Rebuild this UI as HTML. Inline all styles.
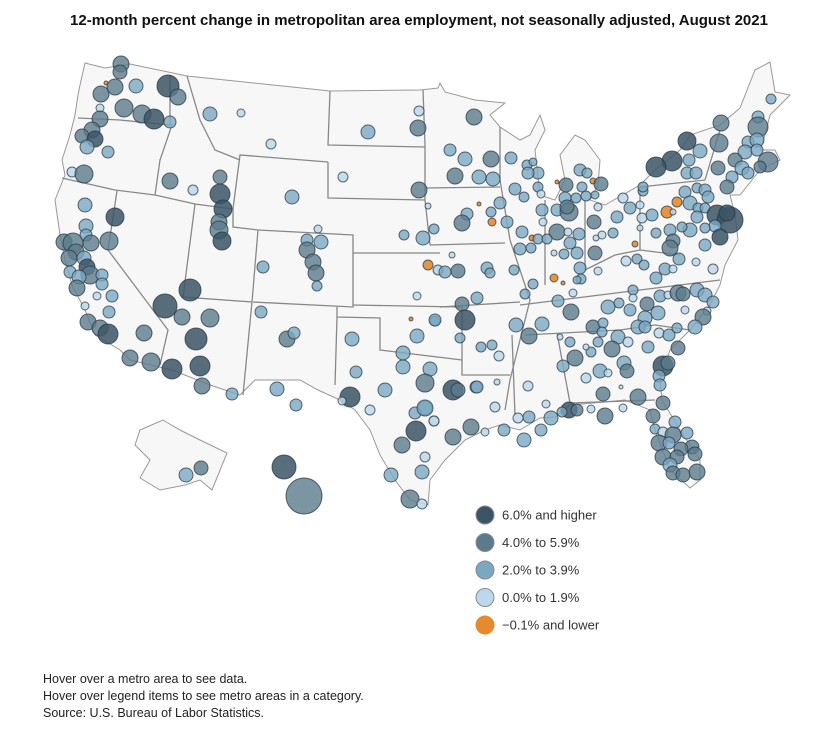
<!DOCTYPE html>
<html><head><meta charset="utf-8"><style>
body{margin:0;background:#fff;width:838px;height:740px;overflow:hidden;font-family:"Liberation Sans",sans-serif;}
.t{position:absolute;left:0;width:838px;top:12px;text-align:center;font-weight:bold;font-size:15px;color:#111;}
.f{position:absolute;left:43px;top:671px;font-size:12.5px;line-height:17px;color:#222;}
svg{position:absolute;left:0;top:0}
</style></head><body>
<div class="t">12-month percent change in metropolitan area employment, not seasonally adjusted, August 2021</div>
<svg width="838" height="740" id="m">
<polygon fill="#f7f7f7" stroke="#999" stroke-width="1" points="80,85 85,63 105,68 130,64 187,76 330,91 420,90 438,88 440,83 445,92 475,100 505,103 490,115 500,127 520,140 530,135 540,115 545,130 535,150 540,195 555,200 565,180 560,155 575,135 585,140 600,160 598,185 590,200 605,205 640,185 655,170 680,150 690,135 720,125 740,108 755,70 770,62 775,92 790,95 770,115 765,135 760,150 775,150 780,160 760,170 740,195 730,195 735,215 738,240 725,265 720,285 710,305 690,330 670,350 660,380 662,400 680,430 700,460 700,480 690,488 670,470 655,430 650,410 625,400 605,402 570,405 555,417 540,418 520,430 500,425 485,430 465,440 445,460 430,480 428,505 410,500 395,480 380,455 370,430 355,410 340,400 318,390 300,380 275,380 255,380 240,395 210,385 172,370 130,360 120,350 95,335 85,310 72,285 65,260 60,235 55,200 65,175 62,160 70,135 75,115 78,95"/>
<polygon fill="#f7f7f7" stroke="#999" points="140,430 163,420 180,430 200,440 227,453 212,490 200,480 185,485 160,490 140,478 150,460 135,445"/>
<g fill="none" stroke="#888" stroke-width="1.3">
<polyline points="78,118 120,120 170,125"/><polyline points="170,75 170,125"/>
<polyline points="187,76 200,120 215,150 240,160"/><polyline points="62,178 115,190 155,195 195,204 233,209"/>
<polyline points="172,125 160,160 155,195"/><polyline points="117,191 108,250 168,330 160,365"/>
<polyline points="195,204 183,297 252,302 243,395"/><polyline points="233,209 240,155 328,162"/>
<polyline points="233,209 233,227 258,230 353,235 353,307 253,302"/><polyline points="258,230 252,302"/>
<polyline points="330,91 328,145 425,147"/><polyline points="328,162 328,198 425,200"/>
<polyline points="353,253 440,253"/><polyline points="353,305 460,307"/><polyline points="337,307 337,317 380,318 380,350 462,360 462,305"/>
<polyline points="337,317 335,385"/><polyline points="423,90 425,145 425,200 430,245"/>
<polyline points="425,188 500,187"/><polyline points="430,245 505,243"/><polyline points="440,307 520,302"/><polyline points="462,360 462,375 510,375"/>
<polyline points="500,127 500,180 510,240 530,300 520,340 510,380 505,410"/>
<polyline points="545,200 545,285"/><polyline points="585,200 585,270"/><polyline points="640,190 640,250"/>
<polyline points="520,305 640,290 720,280"/><polyline points="525,335 620,330 655,325"/><polyline points="655,325 690,330"/>
<polyline points="512,335 515,415"/><polyline points="557,333 570,403"/><polyline points="570,403 655,400"/>
<polyline points="640,187 705,180"/><polyline points="705,180 720,130"/><polyline points="585,270 615,255 640,250 680,255"/>
</g>
</svg>
<div class="f">Hover over a metro area to see data.<br>Hover over legend items to see metro areas in a category.<br>Source: U.S. Bureau of Labor Statistics.</div>
<script>
var C=["rgba(59,85,102,0.85)","rgba(91,122,140,0.8)","rgba(123,167,194,0.8)","rgba(188,216,234,0.85)","rgba(230,138,46,0.9)"];
var d=[[121,64,8,1],[120,72,7,1],[106,83,2,4],[115,87,8,1],[136,86,7,2],[168,86,11,0],[178,97,8,1],[101,94,8,1],[100,108,4,3],[124,108,9,1],[142,114,9,1],[154,119,10,0],[170,122,6,2],[100,119,8,1],[92,130,8,1],[82,136,7,1],[95,139,8,0],[87,147,7,2],[108,152,6,2],[210,114,7,2],[241,113,4,3],[271,144,5,3],[368,132,7,2],[419,111,5,3],[418,128,8,1],[72,172,5,3],[84,174,9,1],[170,181,8,1],[193,190,5,3],[220,177,7,1],[220,194,10,0],[223,209,9,0],[219,222,8,1],[219,230,9,1],[222,241,9,0],[292,197,7,2],[343,177,5,3],[419,190,8,1],[428,206,3,3],[85,205,7,2],[115,217,9,0],[86,226,7,2],[86,235,6,2],[91,243,8,1],[109,241,9,1],[64,242,8,1],[73,243,10,1],[76,252,8,1],[69,258,8,1],[84,258,7,2],[87,267,8,0],[90,275,9,1],[70,272,6,2],[79,277,7,2],[102,275,6,2],[102,284,6,2],[77,288,8,1],[97,296,4,3],[112,296,6,2],[85,306,4,3],[109,312,6,2],[88,322,8,1],[100,328,8,1],[108,334,10,0],[144,333,8,1],[130,358,8,1],[151,362,9,1],[172,369,10,0],[165,306,12,0],[190,290,11,0],[182,317,8,1],[210,318,9,1],[196,339,11,0],[200,366,10,0],[202,386,8,1],[232,394,6,2],[261,312,6,2],[287,339,8,1],[294,333,6,2],[263,267,6,2],[307,240,6,2],[318,229,4,3],[321,242,7,2],[307,250,8,1],[313,262,8,1],[316,273,8,1],[317,286,5,2],[277,389,7,2],[296,405,6,2],[350,397,10,0],[342,401,4,3],[370,410,5,3],[385,390,7,2],[352,339,7,2],[356,372,6,2],[404,235,5,2],[423,238,7,2],[434,229,5,2],[428,265,5,4],[438,270,4,3],[417,296,4,3],[411,319,2,4],[435,321,5,2],[417,336,7,2],[403,353,7,2],[403,367,7,2],[430,369,7,2],[425,383,9,1],[425,408,7,2],[415,413,6,2],[434,421,5,3],[416,431,10,0],[402,445,8,1],[425,457,5,3],[422,472,7,2],[391,475,7,2],[410,499,9,1],[422,504,5,3],[201,468,7,1],[186,475,7,2],[284,467,12,0],[304,496,18,1],
[474,117,8,1],[450,150,6,2],[465,159,7,2],[491,159,8,1],[511,158,6,2],[455,176,8,1],[479,177,7,2],[493,179,7,2],[527,165,5,2],[533,162,4,2],[538,173,6,2],[528,173,6,2],[515,189,6,2],[524,197,5,2],[538,187,5,2],[541,194,4,3],[557,182,2,4],[566,185,7,1],[580,170,6,2],[587,173,5,2],[593,181,3,4],[601,184,7,1],[582,187,5,2],[576,198,5,2],[586,196,5,2],[595,195,4,2],[598,207,4,3],[565,198,6,2],[557,210,6,2],[569,212,9,1],[567,207,7,1],[479,204,2,4],[492,222,4,4],[500,203,6,2],[491,212,5,2],[467,214,6,2],[462,223,8,1],[507,222,6,2],[542,210,6,2],[543,222,4,3],[557,232,8,1],[568,232,4,3],[522,232,6,2],[532,238,3,4],[538,239,5,2],[547,239,5,2],[520,249,6,2],[531,248,5,2],[554,253,3,3],[564,254,5,2],[570,243,6,2],[577,253,6,2],[579,234,6,2],[594,222,7,1],[602,235,4,3],[596,238,3,3],[595,253,7,1],[617,217,6,2],[613,233,5,2],[623,198,5,3],[630,208,6,2],[640,205,4,3],[642,218,5,3],[643,191,5,2],[640,228,3,3],[635,244,3,4],[626,261,5,3],[637,259,5,2],[644,265,5,2],[438,270,5,3],[445,272,6,2],[458,271,7,1],[452,255,3,3],[487,268,6,2],[490,273,5,2],[514,270,5,2],[580,268,6,2],[598,271,4,3],[581,279,5,2],[577,280,4,2],[554,278,4,4],[563,283,2,4],[533,284,5,2],[525,294,5,2],[573,293,4,3],[558,301,6,2],[477,298,6,2],[462,304,7,1],[465,320,10,0],[435,320,6,2],[460,338,5,2],[481,347,5,2],[492,345,5,2],[499,356,5,3],[516,325,7,2],[529,336,8,1],[542,324,7,2],[571,312,8,1],[608,307,7,2],[619,303,5,2],[630,310,6,2],[633,290,5,2],[633,298,4,3],[647,304,7,1],[660,296,6,2],[668,295,4,3],[678,293,8,1],[683,294,7,1],[697,290,7,2],[705,295,7,2],[713,302,6,2],[658,313,7,2],[685,310,4,3],[707,311,4,3],[703,317,8,1],[695,327,7,2],[645,318,7,2],[638,327,7,2],[645,327,6,2],[659,333,5,3],[669,335,6,2],[677,328,5,2],[593,327,7,1],[603,323,5,2],[602,332,5,2],[618,337,7,2],[628,342,5,3],[598,342,5,2],[612,349,8,1],[591,352,5,2],[586,347,3,3],[570,342,5,2],[560,337,3,3],[575,358,8,1],[563,366,6,2],[586,378,5,3],[600,371,7,2],[608,373,4,3],[624,363,7,2],[627,371,7,1],[648,347,6,2],[678,348,7,1],[663,366,10,0],[668,363,7,1],[659,376,6,2],[660,385,6,2],[621,387,2,3],[603,394,7,1],[638,397,8,1],[663,403,7,1],[528,386,5,3],[497,382,3,3],[476,387,6,2],[495,407,5,3],[546,404,4,3],[569,410,8,0],[577,410,6,1],[562,412,5,2],[591,409,4,3],[623,408,4,3],[605,416,8,1],[551,418,7,2],[529,417,6,2],[518,418,5,3],[541,430,6,2],[524,440,7,2],[504,430,6,2],[485,432,4,3],[453,437,8,1],[471,427,8,1],[453,390,10,0],[458,390,7,1],[477,387,6,2],[434,421,5,3],[425,408,8,2],
[653,416,7,1],[655,429,5,2],[675,422,6,2],[663,432,5,3],[673,435,8,1],[687,433,6,2],[659,443,8,1],[669,443,6,2],[692,447,7,1],[681,449,7,1],[663,457,8,1],[677,457,7,1],[695,454,7,1],[670,465,7,2],[673,473,7,1],[697,472,8,1],[683,475,7,1],
[771,99,5,2],[721,123,8,1],[758,117,6,2],[758,127,10,1],[748,142,6,2],[757,140,7,2],[687,141,9,0],[719,143,9,1],[700,151,7,2],[672,161,10,0],[656,167,10,0],[689,160,6,2],[745,152,7,2],[757,150,6,2],[768,162,10,1],[735,160,7,1],[718,168,7,1],[742,168,7,2],[760,167,6,1],[687,173,6,2],[696,173,6,2],[732,177,6,2],[748,173,6,2],[643,187,5,2],[667,212,6,4],[677,202,5,4],[673,212,3,3],[652,215,6,2],[685,192,6,2],[697,188,5,2],[705,190,6,2],[727,187,7,1],[708,197,6,2],[690,203,7,2],[698,208,5,2],[705,208,5,2],[697,217,6,2],[717,215,10,0],[730,220,13,0],[727,213,8,0],[715,226,6,2],[720,237,8,0],[705,228,5,2],[690,230,7,2],[682,227,5,2],[670,230,6,2],[656,233,5,2],[705,245,6,2],[673,241,7,1],[670,248,8,1],[679,259,6,2],[696,262,4,3],[713,269,5,3],[665,269,6,2],[656,278,6,2],[673,269,4,3]];
var s='',ns='http://www.w3.org/2000/svg',m=document.getElementById('m');
d.forEach(function(a){s+='<circle cx="'+a[0]+'" cy="'+a[1]+'" r="'+a[2]+'" fill="'+C[a[3]]+'" stroke="rgba(40,55,65,0.75)" stroke-width="1"/>';});
var L=["6.0% and higher","4.0% to 5.9%","2.0% to 3.9%","0.0% to 1.9%","\u22120.1% and lower"],S=["#3b5566","#5b7a8c","#7ba7c2","#bcd8ea","#e68a2e"];
for(var i=0;i<5;i++){var y=515+i*27.5;s+='<circle cx="485" cy="'+y+'" r="9" fill="'+S[i]+'" stroke="'+(i==4?'#e68a2e':'#889')+'"/><text x="502" y="'+(y+4.5)+'" font-size="13" fill="#333" font-family="Liberation Sans, sans-serif">'+L[i]+'</text>';}
m.insertAdjacentHTML('beforeend',s);
</script>
</body></html>
